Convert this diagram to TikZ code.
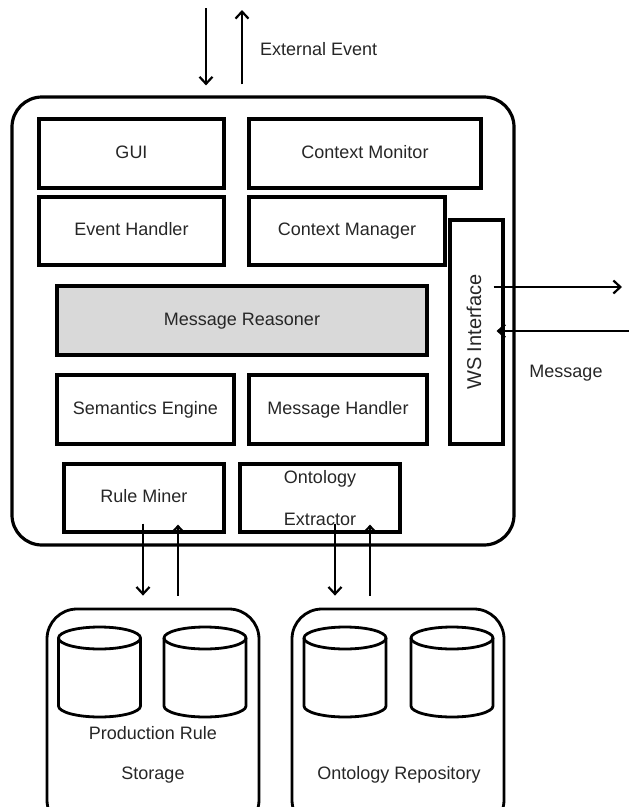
\documentclass[tikz,border=0pt]{standalone}
\usepackage{fontspec}
\setmainfont{Liberation Sans}
\usetikzlibrary{arrows.meta,calc}

\begin{document}
\begin{tikzpicture}[x=1pt,y=-1pt]
\tikzset{boite/.style={draw, line width=3.2pt, inner sep=0pt, minimum height=69pt, text height=13pt, text depth=4pt, font=\fontsize{18}{22}\selectfont, text=black!85},
grandboite/.style={draw, line width=3.2pt, rounded corners=30pt, inner sep=0pt},
fleche/.style={line width=2.2pt, -{Straight Barb[length=7pt,width=13pt,line width=2.2pt]}},
texte/.style={font=\fontsize{18}{22}\selectfont, text=black!85, inner sep=0pt},
cyl/.style={line width=2.8pt}}
\useasboundingbox (0,0) rectangle (629,807);
\clip (0,0) rectangle (629,807);
% agent
\node[grandboite, minimum width=502pt, minimum height=448pt] (A) at (263,321) {};
\node[boite, minimum width=185pt] (GUI) at (131.5,153.5) {GUI};
\node[boite, minimum width=232pt] (CMo) at (365,153.5) {Context Monitor};
\node[boite, minimum width=185pt, minimum height=68pt] (EH) at (131.5,231) {Event Handler};
\node[boite, minimum width=196pt, minimum height=68pt] (CMa) at (347,231) {Context Manager};
\node[boite, rotate=90, minimum width=224pt, minimum height=53pt, font=\fontsize{20}{22}\selectfont] (WS) at (476.5,332) {WS Interface};
\node[boite, fill=black!15, minimum width=370pt] (MR) at (242,320.5) {Message Reasoner};
\node[boite, minimum width=177pt] (SE) at (145.5,409.5) {Semantics Engine};
\node[boite, minimum width=178pt] (MH) at (338,409.5) {Message Handler};
\node[boite, minimum width=160pt, minimum height=68pt] (RM) at (144,498) {Rule Miner};
\node[boite, minimum width=160pt, minimum height=68pt, text height=, text depth=, align=center] (OE) at (320,498) {Ontology\\[20pt]Extractor};
% stores
\node[grandboite, line width=2.8pt, minimum width=212pt, minimum height=221pt] (PRS) at (153,719.5) {};
\node[grandboite, line width=2.8pt, minimum width=212pt, minimum height=221pt] (ORS) at (398,719.5) {};
\foreach \cx in {99.5,205,345,452} {
  \draw[cyl] (\cx,638) ellipse [x radius=41pt, y radius=11pt];
  \draw[cyl] (\cx-41,638) -- (\cx-41,706) arc[start angle=180, end angle=360, x radius=41pt, y radius=11pt] -- (\cx+41,638);
}
\node[texte] (PR1) at (153,733) {Production Rule};
\node[texte] (PR2) at (153,775) {Storage};
\node[texte] (OR1) at (399,775) {Ontology Repository};
% external event
\coordinate (Ein) at (206,8);
\coordinate (Eout) at (242,10);
\draw[fleche] (Ein) -- ($(Ein |- A.north)+(0,-10)$);
\draw[fleche] ($(Eout |- A.north)+(0,-11)$) -- (Eout);
\node[texte, anchor=west] (EE) at (260,49) {External Event};
% message
\coordinate (Mout) at (622,287);
\coordinate (Min) at (629,331);
\draw[fleche] ($(WS.south |- Mout)+(-11,0)$) -- (Mout);
\draw[fleche] (Min) -- ($(WS.south |- Min)+(-8,0)$);
\node[texte] (MSG) at (566,373) {Message};
% stores <-> agent
\draw[fleche] ($(RM.south)+(-1,-10)$) -- ($(RM.south |- PRS.north)+(-1,-12)$);
\draw[fleche] ($(RM.south |- PRS.north)+(34,-12)$) -- ($(RM.south)+(34,-9)$);
\draw[fleche] ($(OE.south)+(15,-10)$) -- ($(OE.south |- ORS.north)+(15,-12)$);
\draw[fleche] ($(OE.south |- ORS.north)+(50,-12)$) -- ($(OE.south)+(50,-9)$);
\end{tikzpicture}
\end{document}
